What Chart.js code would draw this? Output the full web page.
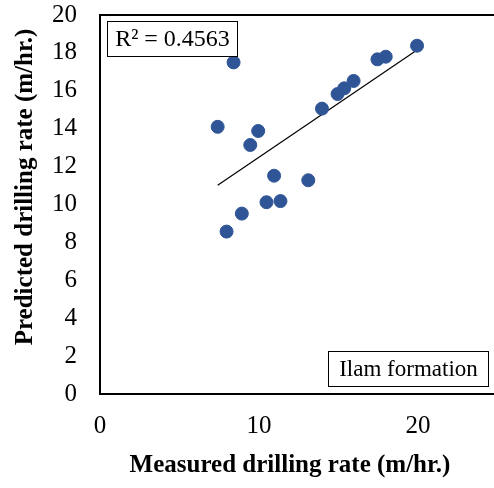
<!DOCTYPE html>
<html>
<head>
<meta charset="utf-8">
<script src="https://cdn.jsdelivr.net/npm/chart.js@4/dist/chart.umd.min.js"></script>
<style>
  html, body { margin: 0; padding: 0; background: #fff; overflow: hidden; }
  canvas { display: block; }
</style>
</head>
<body>
<canvas id="rateChart" width="505" height="488"></canvas>
<script>
// measured vs predicted drilling rate, m/hr
const measured  = [8.40, 7.40, 9.95, 9.45, 10.95, 13.10, 10.47, 11.35, 8.92, 7.96, 13.96, 14.94, 15.36, 15.95, 17.45, 17.97, 19.94];
const predicted = [17.50, 14.10, 13.88, 13.14, 11.52, 11.28, 10.12, 10.18, 9.52, 8.57, 15.06, 15.83, 16.13, 16.52, 17.66, 17.80, 18.38];
const xTicks = [0, 10, 20];
const yTicks = [0, 2, 4, 6, 8, 10, 12, 14, 16, 18, 20];
const xTitle = 'Measured drilling rate (m/hr.)';
const yTitle = 'Predicted drilling rate (m/hr.)';
const r2Label = 'R² = 0.4563';
const formationLabel = 'Ilam formation';

// least squares fit drawn between the smallest and largest measured value
function linearFit(xs, ys) {
  const n = xs.length;
  const mx = xs.reduce((a, b) => a + b, 0) / n;
  const my = ys.reduce((a, b) => a + b, 0) / n;
  let sxy = 0, sxx = 0;
  for (let i = 0; i < n; i++) {
    sxy += (xs[i] - mx) * (ys[i] - my);
    sxx += (xs[i] - mx) * (xs[i] - mx);
  }
  const slope = sxy / sxx;
  return x => my + slope * (x - mx);
}
const fit = linearFit(measured, predicted);
const xMin = Math.min(...measured), xMax = Math.max(...measured);
const trend = [{ x: xMin, y: fit(xMin) }, { x: xMax, y: fit(xMax) }];

const serif = '"Liberation Serif", "Times New Roman", serif';

// plot frame, axis titles and the two text boxes
const decor = {
  id: 'decor',
  afterDraw(chart) {
    const c = chart.ctx, a = chart.chartArea;
    c.save();
    c.strokeStyle = '#000';
    c.fillStyle = '#000';
    c.lineWidth = 2;
    c.strokeRect(a.left, a.top, a.right - a.left, a.bottom - a.top);

    c.textBaseline = 'middle';
    c.textAlign = 'center';
    c.font = 'bold 25px ' + serif;
    c.fillText(xTitle, 290, 466);
    c.save();
    c.translate(26, 187);
    c.rotate(-Math.PI / 2);
    c.fillText(yTitle, 0, 0);
    c.restore();

    c.lineWidth = 1;
    c.font = '24px ' + serif;
    c.fillStyle = '#fff';
    c.fillRect(107.5, 21.5, 130, 35);
    c.strokeRect(107.5, 21.5, 130, 35);
    c.fillStyle = '#000';
    c.fillText(r2Label, 172.5, 40);

    c.font = '23px ' + serif;
    c.fillStyle = '#fff';
    c.fillRect(328.5, 351.5, 160, 35);
    c.strokeRect(328.5, 351.5, 160, 35);
    c.fillStyle = '#000';
    c.fillText(formationLabel, 408.5, 370);
    c.restore();
  }
};

new Chart(document.getElementById('rateChart'), {
  type: 'scatter',
  data: {
    datasets: [{
      data: measured.map((x, i) => ({ x, y: predicted[i] })),
      backgroundColor: '#2f5597',
      borderColor: '#2f5597',
      pointRadius: 6.5,
      pointHoverRadius: 6.5,
      order: 1
    }, {
      type: 'line',
      data: trend,
      borderColor: '#000',
      borderWidth: 1.2,
      pointRadius: 0,
      fill: false,
      order: 2
    }]
  },
  options: {
    responsive: false,
    animation: false,
    layout: { padding: { top: 15, right: 2 } },
    plugins: {
      legend: { display: false },
      tooltip: { enabled: false }
    },
    scales: {
      x: {
        type: 'linear',
        min: 0,
        max: 25,
        afterBuildTicks: s => { s.ticks = xTicks.map(v => ({ value: v })); },
        afterFit: s => { s.height = 94; s.paddingLeft = 0; s.paddingRight = 0; },
        grid: { display: false, drawTicks: false },
        border: { display: false },
        ticks: { color: '#000', padding: 17, font: { family: serif, size: 25 } }
      },
      y: {
        min: 0,
        max: 20,
        afterBuildTicks: s => { s.ticks = yTicks.map(v => ({ value: v })); },
        afterFit: s => { s.width = 100; s.paddingTop = 0; s.paddingBottom = 0; },
        grid: { display: false, drawTicks: false },
        border: { display: false },
        ticks: { color: '#000', padding: 23, font: { family: serif, size: 25 } }
      }
    }
  },
  plugins: [decor]
});
</script>
</body>
</html>
